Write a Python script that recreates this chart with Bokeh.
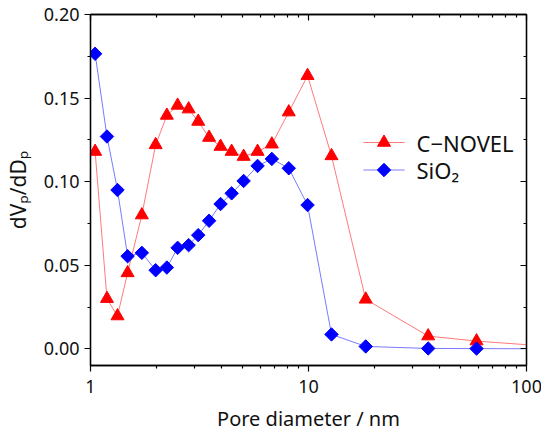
import numpy as np
from bokeh.plotting import figure
from bokeh.models import (Range1d, LogAxis, LinearAxis, FixedTicker, PrintfTickFormatter,
                          CustomJSTickFormatter, Label)
from bokeh.embed import file_html
from bokeh.resources import INLINE

# ---- data ----
pore_diameter = [1.05, 1.19, 1.33, 1.48, 1.72, 1.99, 2.24, 2.51, 2.82, 3.12, 3.50,
                 3.95, 4.44, 5.04, 5.84, 6.79, 8.12, 9.90, 12.75, 18.3, 35.4, 59.0, 120.0]
c_novel = [0.118, 0.030, 0.0196, 0.0454, 0.080, 0.122, 0.1396, 0.1456, 0.1434, 0.136, 0.1264,
           0.121, 0.118, 0.115, 0.118, 0.1224, 0.1416, 0.1634, 0.1154, 0.0296, 0.0076, 0.0046, 0.0017]
sio2 = [0.1765, 0.127, 0.095, 0.0554, 0.0574, 0.047, 0.0486, 0.0604, 0.062, 0.068, 0.0766,
        0.0866, 0.093, 0.1004, 0.1094, 0.1136, 0.108, 0.086, 0.0086, 0.0014, 0.0002, 0.0001, 0.0]
n_marked = 22  # last point lies beyond the axis limit (line only)

y_major = [0.0, 0.05, 0.10, 0.15, 0.20]
y_minor = [-0.025, 0.025, 0.075, 0.125, 0.175]
x_major = [1, 10, 100]
x_minor = [2, 3, 4, 5, 6, 7, 8, 9, 20, 30, 40, 50, 60, 70, 80, 90]

series_names = ["C\u2212NOVEL", "SiO\u2082"]
y_label = "dV\u209a/dD\u209a"
x_label = "Pore diameter / nm"

FONT = "Noto Sans"
RED, RED_LINE = "#ff0000", "#ff7a7a"
BLUE, BLUE_LINE = "#0000ff", "#7a7aff"

X0, X1, Y0, Y1 = 1, 100, -0.01, 0.2
FW, FH = 436, 351

p = figure(x_axis_type="log", x_range=Range1d(X0, X1), y_range=Range1d(Y0, Y1),
           frame_width=FW, frame_height=FH,
           min_border_left=89, min_border_top=14, min_border_right=16, min_border_bottom=55,
           output_backend="svg", toolbar_location=None, background_fill_color="white",
           border_fill_color="white")
p.grid.visible = False
p.outline_line_color = "black"
p.outline_line_width = 1.3


def px_to_logx(dx):
    """screen offset (px from frame left) -> data x on the log axis"""
    return 10 ** (np.log10(X0) + dx / FW * (np.log10(X1) - np.log10(X0)))


def px_to_y(dy):
    """screen offset (px from frame top) -> data y"""
    return Y1 - dy / FH * (Y1 - Y0)


# series
p.line(pore_diameter, c_novel, line_color=RED_LINE, line_width=1)
p.scatter(pore_diameter[:n_marked], c_novel[:n_marked], marker="triangle", size=13,
          fill_color=RED, line_color=RED)
p.line(pore_diameter, sio2, line_color=BLUE_LINE, line_width=1)
p.scatter(pore_diameter[:n_marked], sio2[:n_marked], marker="square", size=9.5, angle=np.pi / 4,
          fill_color=BLUE, line_color=BLUE)

# axes
xa = p.xaxis[0]
xa.ticker = FixedTicker(ticks=x_major, minor_ticks=x_minor)
xa.formatter = CustomJSTickFormatter(code="return String(Math.round(tick));")
ya = p.yaxis[0]
ya.ticker = FixedTicker(ticks=y_major, minor_ticks=y_minor)
ya.formatter = PrintfTickFormatter(format="%.2f")

for ax in (xa, ya):
    ax.axis_line_color = "black"
    ax.axis_line_width = 1.3
    ax.major_tick_line_color = "black"
    ax.minor_tick_line_color = "black"
    ax.major_tick_line_width = 1.2
    ax.minor_tick_line_width = 1.2
    ax.major_tick_out = 6
    ax.major_tick_in = 0
    ax.minor_tick_out = 3
    ax.minor_tick_in = 0
    ax.major_label_text_font = FONT
    ax.major_label_text_font_size = "18px"
    ax.major_label_text_color = "#111111"
    ax.axis_label_text_font = FONT
    ax.axis_label_text_font_style = "normal"
    ax.axis_label_text_color = "#111111"

xa.major_label_standoff = 8
ya.major_label_standoff = 5
xa.axis_label = x_label
xa.axis_label_text_font_size = "20px"
xa.axis_label_standoff = 9
ya.axis_label = y_label
ya.axis_label_text_font_size = "21px"
ya.axis_label_standoff = 9

top = LogAxis(ticker=FixedTicker(ticks=x_major, minor_ticks=x_minor))
right = LinearAxis(ticker=FixedTicker(ticks=y_major, minor_ticks=y_minor))
for ax in (top, right):
    ax.axis_line_color = "black"
    ax.axis_line_width = 1.3
    ax.major_tick_line_color = "black"
    ax.minor_tick_line_color = "black"
    ax.major_tick_line_width = 1.2
    ax.minor_tick_line_width = 1.2
    ax.major_tick_in = 6
    ax.major_tick_out = 0
    ax.minor_tick_in = 3
    ax.minor_tick_out = 0
    ax.major_label_text_font_size = "1px"
    ax.major_label_text_alpha = 0
    ax.major_label_standoff = 0
p.add_layout(top, "above")
p.add_layout(right, "right")

# legend (drawn by hand so the diamond keeps its orientation)
leg_rows = [128.0, 155.5]     # px below frame top
leg_x = [273.0, 314.0]        # line sample, px from frame left
leg_text_dx = 326.0
for name, row, mk, mcol, lcol, msize, ang in [
        (series_names[0], leg_rows[0], "triangle", RED, RED_LINE, 13, 0.0),
        (series_names[1], leg_rows[1], "square", BLUE, BLUE_LINE, 9.5, np.pi / 4)]:
    yy = px_to_y(row)
    p.line([px_to_logx(leg_x[0]), px_to_logx(leg_x[1])], [yy, yy], line_color=lcol, line_width=1)
    p.scatter([px_to_logx(sum(leg_x) / 2)], [yy], marker=mk, size=msize, angle=ang,
              fill_color=mcol, line_color=mcol)
    p.add_layout(Label(x=px_to_logx(leg_text_dx), y=yy, text=name, text_font=FONT,
                       text_font_size="22px", text_color="#111111",
                       text_baseline="middle", text_align="left"))

open("out.html", "w").write(file_html(p, INLINE))
